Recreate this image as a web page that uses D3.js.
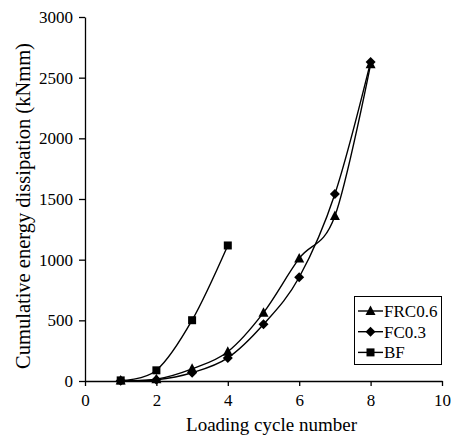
<!DOCTYPE html>
<html>
<head>
<meta charset="utf-8">
<script src="https://cdn.jsdelivr.net/npm/d3@7"></script>
<style>
  html, body { margin: 0; padding: 0; background: #fff; }
  svg { display: block; }
  svg text { font-family: "Times New Roman", Times, "Liberation Serif", "DejaVu Serif", serif !important; fill: #000; }
</style>
</head>
<body>
<svg id="chart" width="452" height="440"></svg>
<script>
const cycles = [1, 2, 3, 4, 5, 6, 7, 8];
const frc06 = [5, 15, 100, 241, 563, 1010, 1360, 2610];
const fc03 = [3, 10, 68, 190, 467, 855, 1541, 2630];
const bfCycles = [1, 2, 3, 4];
const bf = [5, 88, 501, 1117];
const xTicks = [0, 2, 4, 6, 8, 10];
const yTicks = [0, 500, 1000, 1500, 2000, 2500, 3000];
const seriesNames = ["FRC0.6", "FC0.3", "BF"];
const xTitle = "Loading cycle number";
const yTitle = "Cumulative energy dissipation (kNmm)";

const svg = d3.select("#chart");
const x = d3.scaleLinear().domain([0, 10]).range([85, 442]);
const y = d3.scaleLinear().domain([0, 3000]).range([381, 17]);

const series = [
  { name: seriesNames[0], xs: cycles, ys: frc06, marker: "triangle" },
  { name: seriesNames[1], xs: cycles, ys: fc03, marker: "diamond" },
  { name: seriesNames[2], xs: bfCycles, ys: bf, marker: "square" }
];

// Axes
const xAxis = d3.axisBottom(x).tickValues(xTicks).tickFormat(d3.format("d")).tickSize(5).tickSizeOuter(0).tickPadding(5);
const yAxis = d3.axisLeft(y).tickValues(yTicks).tickFormat(d3.format("d")).tickSize(6).tickSizeOuter(0).tickPadding(6);

const gx = svg.append("g").attr("transform", `translate(0,${y(0)})`).call(xAxis);
const gy = svg.append("g").attr("transform", `translate(${x(0)},0)`).call(yAxis);
[gx, gy].forEach(g => {
  g.attr("font-family", null).attr("font-size", null);
  g.select(".domain").attr("stroke", "#000").attr("stroke-width", 1.3);
  g.selectAll(".tick line").attr("stroke", "#000").attr("stroke-width", 1.3);
  g.selectAll(".tick text").attr("font-size", 17).attr("fill", "#000");
});
gx.selectAll(".tick text").attr("dy", "0.9em");

// Titles
svg.append("text").attr("x", (x(0) + x(10)) / 2 + 8).attr("y", 431)
  .attr("text-anchor", "middle").attr("font-size", 19).text(xTitle);
svg.append("text").attr("transform", `translate(30,206) rotate(-90)`)
  .attr("text-anchor", "middle").attr("font-size", 20.5).text(yTitle);

// Markers
function drawMarker(g, type, cx, cy) {
  if (type === "triangle") {
    const s = 5;
    g.append("path").attr("d", `M${cx},${cy - s - 0.5} L${cx + s},${cy + s * 0.8} L${cx - s},${cy + s * 0.8} Z`).attr("fill", "#000");
  } else if (type === "diamond") {
    const s = 5;
    g.append("path").attr("d", `M${cx},${cy - s} L${cx + s},${cy} L${cx},${cy + s} L${cx - s},${cy} Z`).attr("fill", "#000");
  } else {
    const s = 4;
    g.append("rect").attr("x", cx - s).attr("y", cy - s).attr("width", 2 * s).attr("height", 2 * s).attr("fill", "#000");
  }
}

const line = d3.line().curve(d3.curveCardinal.tension(0)).x(d => x(d[0])).y(d => y(d[1]));
const plot = svg.append("g");
series.forEach(s => {
  const pts = s.xs.map((v, i) => [v, s.ys[i]]);
  plot.append("path").attr("d", line(pts)).attr("fill", "none").attr("stroke", "#000").attr("stroke-width", 1.4);
});
series.forEach(s => {
  s.xs.forEach((v, i) => drawMarker(plot, s.marker, x(v), y(s.ys[i])));
});

// Legend
const lg = svg.append("g");
lg.append("rect").attr("x", 354.5).attr("y", 296.5).attr("width", 87).attr("height", 68)
  .attr("fill", "#fff").attr("stroke", "#000").attr("stroke-width", 1);
series.forEach((s, i) => {
  const ly = 311 + i * 20.7;
  lg.append("line").attr("x1", 358).attr("x2", 383).attr("y1", ly).attr("y2", ly).attr("stroke", "#000").attr("stroke-width", 1.4);
  drawMarker(lg, s.marker, 370.5, ly);
  lg.append("text").attr("x", 384).attr("y", ly).attr("dy", "0.35em").attr("font-size", 17).text(s.name);
});
</script>
</body>
</html>
